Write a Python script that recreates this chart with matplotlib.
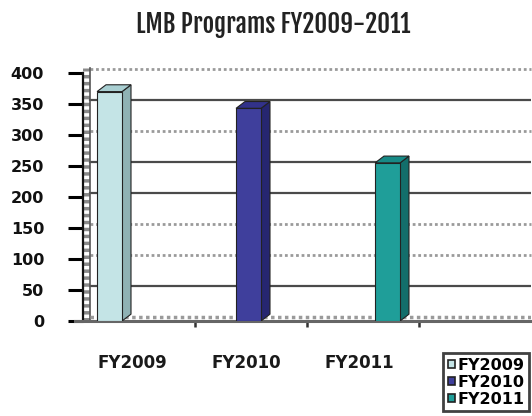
import matplotlib
matplotlib.use("Agg")
import matplotlib.pyplot as plt
from matplotlib.patches import Polygon

# datos del gráfico
series = ["FY2009", "FY2010", "FY2011"]
values = [370, 343, 255]
cat_labels = ["FY2009", "FY2010", "FY2011"]
y_ticks = [0, 50, 100, 150, 200, 250, 300, 350, 400]

# colores (cara frontal, lateral, superior)
front_colors = ["#c4e4e6", "#3f3f9c", "#1f9e99"]
side_colors = ["#8fb2b4", "#262670", "#136e6b"]
top_colors = ["#a9cfd2", "#32328a", "#178a86"]

# posiciones de las columnas dentro de cada categoría
bar_x = [0.237, 1.478, 2.719]
label_x = [0.44, 1.46, 2.47]
bar_w = 0.223
dx, dy = 0.08, 11      # profundidad del efecto 3D
wall_dy = 6            # desplazamiento de la rejilla del fondo

fig = plt.figure(figsize=(5.32, 4.16), dpi=100)
ax = fig.add_axes([83 / 532, 1 - 321 / 416, 448 / 532, 248 / 416])
ax.set_xlim(0, 4)
ax.set_ylim(0, 400)

# rejilla de la pared del fondo (unas líneas sólidas y otras punteadas)
solid = {50, 200, 250, 350}
for v in y_ticks[1:]:
    if v in solid:
        ax.axhline(v + wall_dy, xmin=0.016, color="#4a4a4a", lw=1.6, zorder=1)
    else:
        ax.axhline(v + wall_dy, xmin=0.016, color="#9a9a9a", lw=2.0,
                   ls=(0, (1, 1)), zorder=1, clip_on=False)

# pared izquierda y suelo
ax.axvline(0.03, ymax=1.02, color="#8a8a8a", lw=5, ls=(0, (0.5, 0.5)),
           zorder=1, clip_on=False)
ax.axvline(0.06, ymax=1.02, color="#555555", lw=1.2, zorder=1, clip_on=False)
ax.axhline(wall_dy, xmin=0.016, color="#9a9a9a", lw=2.5, ls=(0, (1, 1)),
           zorder=1)

for x, v, fc, sc, tc in zip(bar_x, values, front_colors, side_colors, top_colors):
    l, r = x - bar_w / 2, x + bar_w / 2
    ax.add_patch(Polygon([(r, 0), (r + dx, dy), (r + dx, v + dy), (r, v)],
                         closed=True, fc=sc, ec="#222222", lw=0.8, zorder=3))
    ax.add_patch(Polygon([(l, v), (r, v), (r + dx, v + dy), (l + dx, v + dy)],
                         closed=True, fc=tc, ec="#222222", lw=0.8, zorder=3))
    ax.bar(x, v, width=bar_w, color=fc, edgecolor="#222222", lw=0.8, zorder=4)

for s in ["top", "right"]:
    ax.spines[s].set_visible(False)
ax.spines["left"].set_color("#111111")
ax.spines["left"].set_linewidth(1.6)
ax.spines["bottom"].set_color("#666666")
ax.spines["bottom"].set_linewidth(2.2)
ax.spines["bottom"].set_bounds(-0.07, 4)

ax.set_yticks(y_ticks)
ax.set_yticklabels([str(t) for t in y_ticks], fontsize=11.5,
                   fontweight="bold", family="DejaVu Sans", color="#111111")
ax.tick_params(axis="y", direction="out", length=11, width=2.2, pad=17)

# marcas del eje x en los límites de categoría, etiquetas aparte
ax.set_xticks([1, 2, 3])
ax.set_xticklabels([])
ax.tick_params(axis="x", direction="out", length=4, width=1.8,
               color="#333333")
for lx, lab in zip(label_x, cat_labels):
    ax.text(lx, -68, lab, ha="center", va="center", fontsize=12,
            fontweight="bold", family="DejaVu Sans",
            color="#1a1a1a", clip_on=False)

fig.text(273 / 532, 1 - 24 / 416, "LMB Programs FY2009-2011",
         ha="center", va="center", fontsize=18,
         family=["Fjalla One", "Roboto Condensed", "DejaVu Sans"],
         color="#222222")

handles = [plt.Rectangle((0, 0), 1, 1, fc=c, ec="#222222", lw=1.2)
           for c in front_colors]
leg = fig.legend(handles, series, loc="upper left",
                 bbox_to_anchor=(443 / 532, 1 - 353 / 416),
                 prop={"family": "DejaVu Sans", "weight": "bold", "size": 11.5},
                 frameon=True, fancybox=False, handlelength=0.45,
                 handleheight=0.45, handletextpad=0.15, labelspacing=0.12,
                 borderpad=0.3, borderaxespad=0)
leg.get_frame().set_edgecolor("#111111")
leg.get_frame().set_linewidth(2)

fig.savefig("out.png", dpi=100)
